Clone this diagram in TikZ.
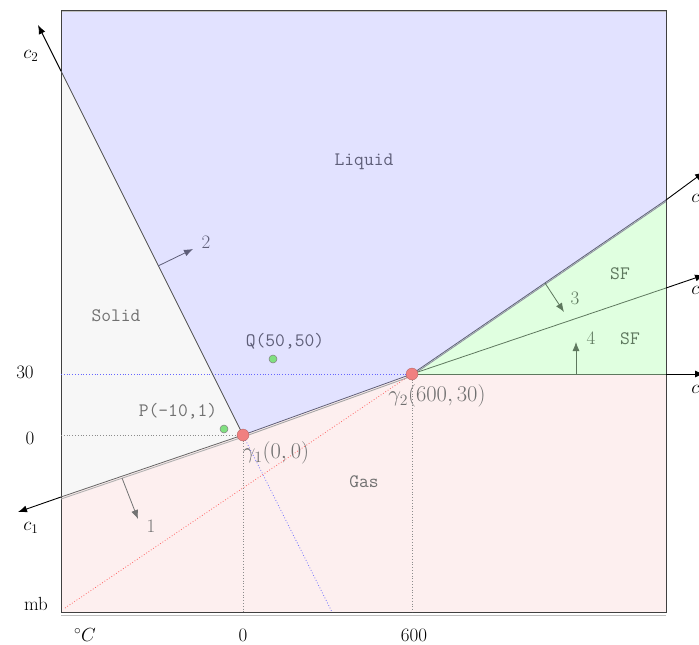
\RequirePackage{fix-cm}
\documentclass[tikz,border=0pt]{standalone}
\usetikzlibrary{arrows.meta}
\definecolor{liqfill}{HTML}{E2E2FF}
\definecolor{solfill}{HTML}{F7F7F7}
\definecolor{gasfill}{HTML}{FDEFEF}
\definecolor{sffill}{HTML}{E0FFE0}
\definecolor{liqtext}{HTML}{5E5E78}
\definecolor{sftext}{HTML}{5E785E}
\definecolor{graytext}{HTML}{707070}
\definecolor{redpt}{HTML}{F08080}
\definecolor{greenpt}{HTML}{80E080}
\tikzset{
  lbl/.style={font=\fontsize{19}{23}\selectfont, inner sep=1pt},
  glbl/.style={font=\fontsize{22.5}{27}\selectfont, inner sep=1pt},
  tlbl/.style={font=\fontsize{19}{23}\selectfont\ttfamily, inner sep=1pt},
  bound/.style={line width=0.8pt},
  guide/.style={dotted, line width=0.8pt},
  normal/.style={-{Latex[length=9pt,width=7pt]}, line width=0.8pt},
  axisarrow/.style={-{Latex[length=9pt,width=7pt]}, line width=0.9pt, black},
  triple/.style={circle, fill=redpt, draw=redpt!60!black, draw opacity=0.6, minimum size=12pt, inner sep=0pt},
  dotpt/.style={circle, fill=greenpt, draw=black!50, line width=0.5pt, minimum size=8pt, inner sep=0pt},
}
\begin{document}
\begin{tikzpicture}[x=1pt,y=-1pt]
\useasboundingbox (0,0) rectangle (699,645);
% key coordinates
\coordinate (TL) at (61,10);
\coordinate (TR) at (666,10);
\coordinate (BR) at (666,612);
\coordinate (BL) at (61,612);
\coordinate (g1) at (243,435);
\coordinate (g2) at (412,374);
\coordinate (c2e) at (61,71);
\coordinate (c2tip) at (38,25);
\coordinate (c1e) at (61,497);
\coordinate (c1tip) at (18,512);
\coordinate (c3e) at (666,200);
\coordinate (c3tip) at (704,172);
\coordinate (c5e) at (666,288);
\coordinate (c5tip) at (704,275);
\coordinate (c4e) at (666,374);
\coordinate (c4tip) at (704,374);
\coordinate (mbpt) at (65,608);
\coordinate (c2low) at (332,612);
\coordinate (y30) at (61,374);
\coordinate (y0) at (61,435);
\coordinate (x0) at (243,612);
\coordinate (x600) at (412,612);
% regions
\fill[liqfill] (TL) -- (TR) -- (c3e) -- (g2) -- (g1) -- (c2e) -- cycle;
\fill[solfill] (c2e) -- (g1) -- (c1e) -- cycle;
\fill[gasfill] (c1e) -- (g1) -- (g2) -- (c4e) -- (BR) -- (BL) -- cycle;
\fill[sffill] (g2) -- (c3e) -- (c4e) -- cycle;
% frame
\draw[black!25, line width=1pt] (61,11) -- (666,11);
\draw[black!25, line width=1pt] (61,615) -- (666,615);
\draw[black!75, line width=0.9pt] (BL) -- (TL) -- (TR) -- (BR) -- cycle;
% guides
\draw[guide, blue!60] (y30) -- (g2);
\draw[guide, black!45] (y0) -- (g1);
\draw[guide, black!45] (g1) -- (x0);
\draw[guide, black!45] (g2) -- (x600);
\draw[guide, red!60] (mbpt) -- (g2);
\draw[guide, blue!55] (g1) -- (c2low);
% doubled boundary lines
\draw[black!30, line width=0.9pt] ([yshift=-2pt]c1e) -- ([yshift=-2pt]g1);
\draw[black!35, line width=0.9pt] ([yshift=-2pt]g1) -- ([yshift=-2pt]g2);
\draw[liqtext!70, line width=0.8pt] ([yshift=-1.5pt]g2) -- ([yshift=-1.5pt]c3e);
% curves
\draw[bound, black!70] (g1) -- (c2e);
\draw[axisarrow] (c2e) -- (c2tip);
\draw[bound, black!60] (g1) -- (c1e);
\draw[axisarrow] (c1e) -- (c1tip);
\draw[bound, liqtext] (g1) -- (g2);
\draw[bound, liqtext] (g2) -- (c3e);
\draw[axisarrow] (c3e) -- (c3tip);
\draw[bound, sftext] (g2) -- (c5e);
\draw[axisarrow] (c5e) -- (c5tip);
\draw[bound, sftext] (g2) -- (c4e);
\draw[axisarrow] (c4e) -- (c4tip);
% normals
\coordinate (n1a) at (122,478); \coordinate (n1b) at (138,519);
\coordinate (n2a) at (158,266); \coordinate (n2b) at (193,249);
\coordinate (n3a) at (545,283); \coordinate (n3b) at (564,312);
\coordinate (n4a) at (576,374); \coordinate (n4b) at (576,342);
\draw[normal, black!55] (n1a) -- (n1b);
\draw[normal, liqtext] (n2a) -- (n2b);
\draw[normal, sftext] (n3a) -- (n3b);
\draw[normal, sftext] (n4a) -- (n4b);
\node[lbl, text=black!55] (l1) at (151,526) {1};
\node[lbl, text=liqtext] (l2) at (206,242) {2};
\node[lbl, text=sftext] (l3) at (575,298) {3};
\node[lbl, text=sftext] (l4) at (591,338) {4};
% points
\node[triple] (G1) at (g1) {};
\node[triple] (G2) at (g2) {};
\node[dotpt] (Q) at (273,359) {};
\node[dotpt] (P) at (224,429) {};
\node[glbl, text=graytext] (G1l) at (276,453) {$\gamma_1(0,0)$};
\node[glbl, text=graytext] (G2l) at (437,396) {$\gamma_2(600,30)$};
\node[tlbl, text=liqtext] (Ql) at (285,341) {Q(50,50)};
\node[tlbl, text=graytext] (Pl) at (178,411) {P(-10,1)};
% region labels
\node[tlbl, text=liqtext] (Liq) at (364,162) {Liquid};
\node[tlbl, text=graytext] (Sol) at (116,316) {Solid};
\node[tlbl, text=graytext] (Gas) at (364,482) {Gas};
\node[tlbl, text=sftext] (SF1) at (620,274) {SF};
\node[tlbl, text=sftext] (SF2) at (630,339) {SF};
% axis labels
\node[lbl] (c2l) at (31,56) {$c_2$};
\node[lbl] (c1l) at (31,528) {$c_1$};
\node[lbl] (c3l) at (699,200) {$c_3$};
\node[lbl] (c5l) at (699,292) {$c_5$};
\node[lbl] (c4l) at (699,391) {$c_4$};
\node[lbl] (t30) at (25,372) {30};
\node[lbl] (t0) at (30,438) {0};
\node[lbl] (tmb) at (36,604) {mb};
\node[lbl] (tC) at (85,635) {$^\circ C$};
\node[lbl] (tx0) at (243,635) {0};
\node[lbl] (tx600) at (414,635) {600};
\end{tikzpicture}
\end{document}
